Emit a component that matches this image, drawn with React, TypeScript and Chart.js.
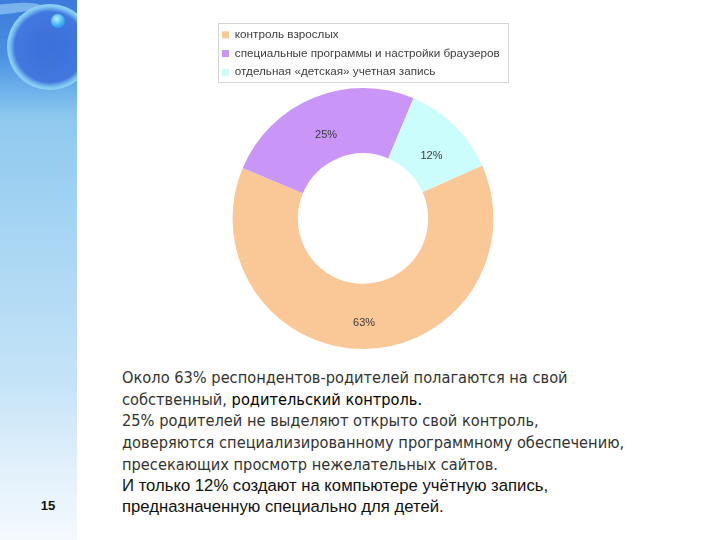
import React, { useEffect, useRef } from "react";
import { Chart, registerables } from "chart.js";

Chart.register(...registerables);

const categories = [
  "контроль взрослых",
  "специальные программы и настройки браузеров",
  "отдельная «детская» учетная запись",
];
const shares = [63, 25, 12];
const sliceColors = ["#FAC796", "#C996F8", "#CCFDFD"];

const sliceLabels = {
  id: "sliceLabels",
  afterDatasetsDraw(chart: any) {
    const ctx = chart.ctx;
    const meta = chart.getDatasetMeta(0);
    ctx.save();
    ctx.font = "11px 'Liberation Sans', Arial, sans-serif";
    ctx.fillStyle = "#3a3a3a";
    ctx.textAlign = "center";
    ctx.textBaseline = "middle";
    meta.data.forEach((arc: any, i: number) => {
      const p = arc.getCenterPoint();
      ctx.fillText(shares[i] + "%", p.x, p.y + 7);
    });
    ctx.restore();
  },
};

const legendFrame = {
  id: "legendFrame",
  afterDraw(chart: any) {
    const lg = chart.legend;
    if (!lg) return;
    const ctx = chart.ctx;
    ctx.save();
    ctx.strokeStyle = "#d4d4d4";
    ctx.lineWidth = 1;
    ctx.strokeRect(lg.left + 3.5, lg.top + 1.5, lg.width - 6, lg.height - 7);
    ctx.restore();
  },
};

function DonutChart() {
  const ref = useRef<HTMLCanvasElement | null>(null);
  useEffect(() => {
    if (!ref.current) return;
    const chart = new Chart(ref.current, {
      type: "doughnut",
      data: {
        labels: categories,
        datasets: [
          {
            data: shares,
            backgroundColor: sliceColors,
            borderWidth: 0,
            hoverOffset: 0,
          },
        ],
      },
      options: {
        animation: false,
        responsive: true,
        maintainAspectRatio: false,
        rotation: 66,
        cutout: "50%",
        layout: { padding: { left: 5, right: 5, top: 1, bottom: 0 } },
        plugins: {
          legend: {
            position: "top",
            align: "start",
            labels: {
              boxWidth: 7,
              boxHeight: 7,
              padding: 7,
              color: "#404040",
              font: { size: 11.7, family: "'Liberation Sans', Arial, sans-serif" },
            },
          },
          tooltip: { enabled: false },
        },
      },
      plugins: [sliceLabels, legendFrame],
    } as any);
    return () => chart.destroy();
  }, []);
  return (
    <div style={{ position: "absolute", left: 210, top: 21, width: 306, height: 328 }}>
      <canvas ref={ref} />
    </div>
  );
}

const grayLine: React.CSSProperties = {
  whiteSpace: "nowrap",
  fontFamily: "'DejaVu Sans Condensed', 'DejaVu Sans', sans-serif",
  fontSize: 16.25,
  color: "#333",
  height: 21.7,
  lineHeight: "21.7px",
};
const blackLine: React.CSSProperties = {
  whiteSpace: "nowrap",
  fontFamily: "'Liberation Sans', Arial, sans-serif",
  fontSize: 16.7,
  color: "#111",
  height: 21,
  lineHeight: "21px",
};

export default function App() {
  return (
    <div
      style={{
        position: "fixed",
        left: 0,
        top: 0,
        width: 720,
        height: 540,
        background: "#fff",
        overflow: "hidden",
      }}
    >
      <div
        style={{
          position: "absolute",
          left: 0,
          top: 0,
          width: 77,
          height: 540,
          overflow: "hidden",
          background:
            "linear-gradient(to bottom, #3d7bdc 0%, #4a8ee2 10%, #6fb3ea 17%, #8fc9ef 22%, #a9d6f3 45%, #c4e3f7 70%, #e3f1fb 88%, #f4f9fe 100%)",
        }}
      >
        <div
          style={{
            position: "absolute",
            left: -30,
            top: 4,
            width: 70,
            height: 10,
            borderRadius: "50%",
            background: "rgba(170,220,250,0.55)",
            transform: "rotate(-6deg)",
          }}
        />
        <div
          style={{
            position: "absolute",
            left: 7,
            top: 4,
            width: 86,
            height: 86,
            borderRadius: "50%",
            background:
              "radial-gradient(circle at 50% 50%, #3c6fda 0%, #4278de 58%, #7cc4f2 66%, #b2e4f8 76%, #9ad6f4 88%, rgba(140,200,240,0) 100%)",
          }}
        />
        <div
          style={{
            position: "absolute",
            left: 51,
            top: 14,
            width: 14,
            height: 14,
            borderRadius: "50%",
            background: "radial-gradient(circle at 40% 35%, #b8f0ff 0%, #3fb0f5 55%, #1f7ee0 100%)",
          }}
        />
        <div
          style={{
            position: "absolute",
            left: 0,
            top: 498,
            width: 77,
            textAlign: "center",
            fontFamily: "'Liberation Sans', Arial, sans-serif",
            fontWeight: "bold",
            fontSize: 13,
            color: "#111",
            paddingLeft: 19,
            boxSizing: "border-box",
          }}
        >
          15
        </div>
      </div>
      <DonutChart />
      <div style={{ position: "absolute", left: 122, top: 367 }}>
        <div style={grayLine}>Около 63% респондентов-родителей полагаются на свой</div>
        <div style={grayLine}>
          собственный, <span style={{ color: "#000" }}>родительский контроль.</span>
        </div>
        <div style={grayLine}>25% родителей не выделяют открыто свой контроль,</div>
        <div style={grayLine}>доверяются специализированному программному обеспечению,</div>
        <div style={grayLine}>пресекающих просмотр нежелательных сайтов.</div>
        <div style={blackLine}>И только 12% создают на компьютере учётную запись,</div>
        <div style={blackLine}>предназначенную специально для детей.</div>
      </div>
    </div>
  );
}
